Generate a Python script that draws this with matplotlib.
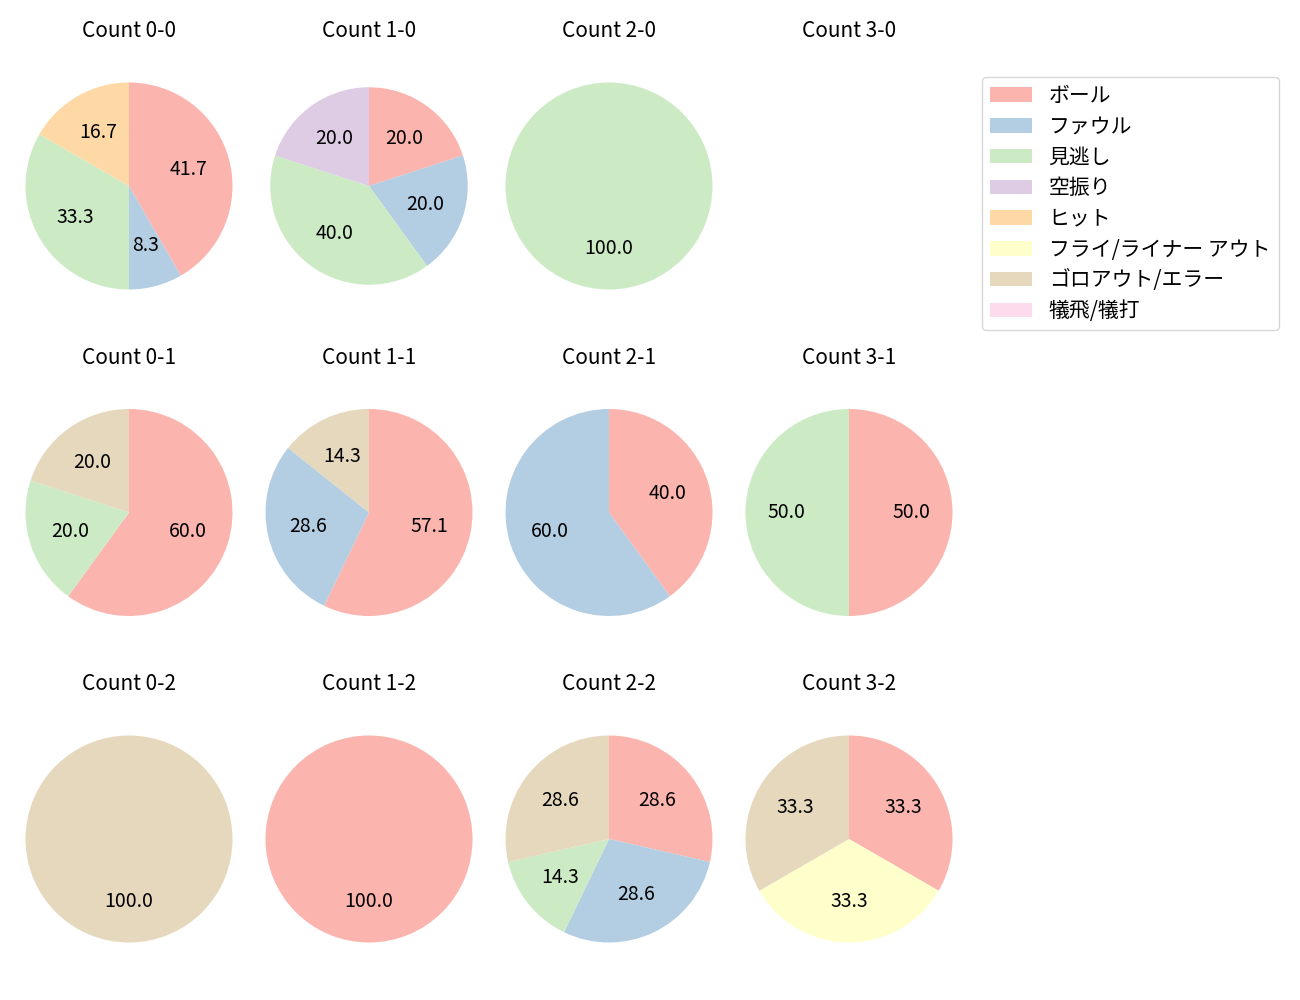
import matplotlib
matplotlib.use("Agg")
import matplotlib.pyplot as plt
from matplotlib.patches import Patch
import numpy as np

plt.rcParams['font.family'] = ['Noto Sans CJK JP', 'DejaVu Sans']

categories = ['ボール', 'ファウル', '見逃し', '空振り', 'ヒット',
              'フライ/ライナー アウト', 'ゴロアウト/エラー', '犠飛/犠打']
colors = ['#fbb4ae', '#b3cde3', '#ccebc5', '#decbe4', '#fed9a6',
          '#ffffcc', '#e5d8bd', '#fddaec']

# rows: strikes 0..2, columns: balls 0..3
count_titles = [['Count 0-0', 'Count 1-0', 'Count 2-0', 'Count 3-0'],
                ['Count 0-1', 'Count 1-1', 'Count 2-1', 'Count 3-1'],
                ['Count 0-2', 'Count 1-2', 'Count 2-2', 'Count 3-2']]

c00 = [5, 1, 4, 0, 2, 0, 0, 0]
c10 = [1, 1, 2, 1, 0, 0, 0, 0]
c20 = [0, 0, 1, 0, 0, 0, 0, 0]
c30 = [0, 0, 0, 0, 0, 0, 0, 0]
c01 = [3, 0, 1, 0, 0, 0, 1, 0]
c11 = [4, 2, 0, 0, 0, 0, 1, 0]
c21 = [2, 3, 0, 0, 0, 0, 0, 0]
c31 = [1, 0, 1, 0, 0, 0, 0, 0]
c02 = [0, 0, 0, 0, 0, 0, 1, 0]
c12 = [1, 0, 0, 0, 0, 0, 0, 0]
c22 = [2, 2, 1, 0, 0, 0, 2, 0]
c32 = [1, 0, 0, 0, 0, 1, 1, 0]

grid_values = [[c00, c10, c20, c30],
               [c01, c11, c21, c31],
               [c02, c12, c22, c32]]

W, H = 1300, 1000
fig = plt.figure(figsize=(13, 10), dpi=100)

cx0, xpitch = 129, 240
cy0, ypitch = 186, 326.5
ax_w, ax_h = 240, 284
r_px = 103.5

for i in range(3):
    for j in range(4):
        cx = cx0 + j * xpitch
        cy = cy0 + i * ypitch
        ax = fig.add_axes([(cx - ax_w / 2) / W, 1 - (cy + ax_h / 2) / H,
                           ax_w / W, ax_h / H])
        vals = np.array(grid_values[i][j], dtype=float)
        ax.set_title(count_titles[i][j], fontsize=15, pad=5)
        if vals.sum() > 0:
            mask = vals > 0
            radius = 0.954 if (i, j) == (0, 1) else 1.0
            ax.pie(vals[mask], colors=[c for c, m in zip(colors, mask) if m],
                   startangle=90, counterclock=False, autopct='%.1f',
                   pctdistance=0.6, radius=radius,
                   textprops={'fontsize': 14, 'color': 'black'})
        ax.set_xlim(-ax_w / 2 / r_px, ax_w / 2 / r_px)
        ax.set_ylim(-ax_h / 2 / r_px, ax_h / 2 / r_px)
        ax.set_aspect('equal', adjustable='datalim')
        ax.axis('off')

handles = [Patch(facecolor=c, label=l) for c, l in zip(colors, categories)]
fig.legend(handles=handles, loc='upper left',
           bbox_to_anchor=(982 / W, 1 - 76.5 / H), borderaxespad=0,
           fontsize=15, labelspacing=0.42, handlelength=2.0)

fig.savefig('out.png', dpi=100)
